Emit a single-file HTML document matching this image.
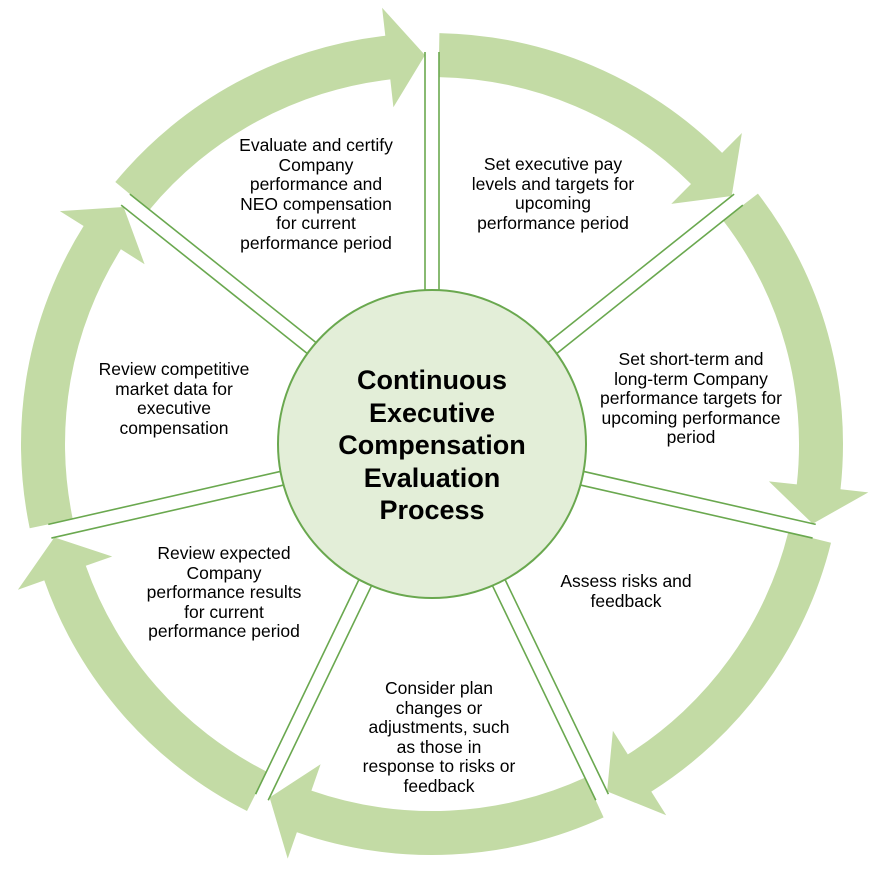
<!DOCTYPE html>
<html><head><meta charset="utf-8"><style>
body{margin:0;background:#fff;width:871px;height:889px;overflow:hidden;font-family:"Liberation Sans",Arial,sans-serif}
svg{position:absolute;left:0;top:0}
.l{position:absolute;font-size:17.5px;line-height:19.5px;text-align:center;color:#000;transform:translateX(-50%);white-space:nowrap}
.c{position:absolute;left:432px;top:364px;transform:translateX(-50%);font-weight:bold;font-size:27px;line-height:32.5px;text-align:center;white-space:nowrap}
</style></head><body>
<svg id="s" width="871" height="889"></svg>
<div class="c">Continuous<br>Executive<br>Compensation<br>Evaluation<br>Process</div>
<div class="l" style="left:316px;top:136px">Evaluate and certify<br>Company<br>performance and<br>NEO compensation<br>for current<br>performance period</div>
<div class="l" style="left:553px;top:155px">Set executive pay<br>levels and targets for<br>upcoming<br>performance period</div>
<div class="l" style="left:691px;top:350px">Set short-term and<br>long-term Company<br>performance targets for<br>upcoming performance<br>period</div>
<div class="l" style="left:626px;top:572px">Assess risks and<br>feedback</div>
<div class="l" style="left:439px;top:679px">Consider plan<br>changes or<br>adjustments, such<br>as those in<br>response to risks or<br>feedback</div>
<div class="l" style="left:224px;top:544px">Review expected<br>Company<br>performance results<br>for current<br>performance period</div>
<div class="l" style="left:174px;top:360px">Review competitive<br>market data for<br>executive<br>compensation</div>
<script>
var cx=432,cy=444,s=document.getElementById('s'),h='';
var R=389,bw=22,hw=50,g=7;
function P(r,a){a=a*Math.PI/180;return [cx+r*Math.cos(a),cy+r*Math.sin(a)];}
function f(p){return p[0].toFixed(1)+','+p[1].toFixed(1);}
var A=[];for(var i=0;i<7;i++)A.push(-90+i*360/7);
for(var i=0;i<7;i++){
 var a0=A[i]+g/R*180/Math.PI, a1=A[i]+360/7-g/R*180/Math.PI, ab=a1-5.5;
 var ro=R+bw, ri=R-bw;
 var d='M'+f(P(ro,a0))+' A'+ro+','+ro+' 0 0 1 '+f(P(ro,ab))+' L'+f(P(R+hw,ab))+' L'+f(P(R,a1))+' L'+f(P(R-hw,ab))+' L'+f(P(ri,ab))+' A'+ri+','+ri+' 0 0 0 '+f(P(ri,a0))+' Z';
 h+='<path d="'+d+'" fill="#c3dba5"/>';
}
for(var i=0;i<7;i++){
 var a=A[i]*Math.PI/180,ux=Math.cos(a),uy=Math.sin(a),px=-uy,py=ux;
 [-1,1].forEach(function(k){
  var ox=px*g*k,oy=py*g*k;
  h+='<line x1="'+(cx+ux*150+ox)+'" y1="'+(cy+uy*150+oy)+'" x2="'+(cx+ux*392+ox)+'" y2="'+(cy+uy*392+oy)+'" stroke="#6aa84f" stroke-width="1.6"/>';
 });
}
h+='<circle cx="'+cx+'" cy="'+cy+'" r="154" fill="#e3eed8" stroke="#6aa84f" stroke-width="2"/>';
s.innerHTML=h;
</script>
</body></html>
